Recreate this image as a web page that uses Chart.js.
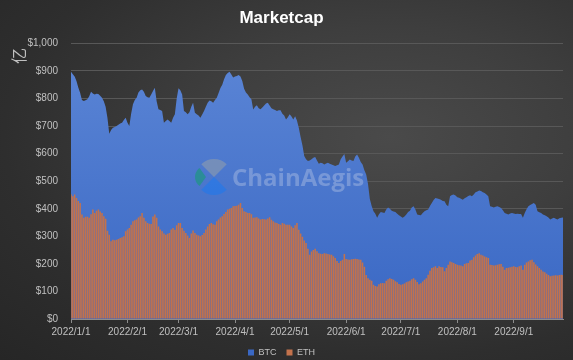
<!DOCTYPE html>
<html>
<head>
<meta charset="utf-8">
<script src="https://cdn.jsdelivr.net/npm/chart.js@4.4.1/dist/chart.umd.min.js"></script>
<style>
  html, body { margin: 0; padding: 0; }
  body {
    width: 573px; height: 360px; overflow: hidden;
    background: radial-gradient(ellipse at 68% 38%, #4a4a4a 0%, #3e3e3e 35%, #2e2e2e 70%, #262626 100%);
  }
  #wrap { position: relative; width: 573px; height: 360px; }
</style>
</head>
<body>
<div id="wrap"><canvas id="chart" width="573" height="360"></canvas></div>
<script>
// daily market cap, 2022/1/1 .. 2022/9/28
const btcCap = [
  897, 888, 880, 864, 840, 821, 795, 791, 794, 797,
  808, 825, 818, 815, 817, 816, 810, 803, 790, 770,
  730, 672, 686, 694, 697, 700, 705, 709, 712, 722,
  730, 712, 700, 745, 779, 795, 803, 822, 830, 833,
  825, 809, 805, 803, 815, 827, 839, 790, 761, 758,
  755, 712, 718, 724, 718, 712, 730, 743, 800, 837,
  830, 815, 755, 750, 743, 750, 770, 785, 748, 743,
  738, 730, 742, 755, 770, 785, 793, 790, 785, 795,
  803, 820, 838, 850, 870, 885, 893, 897, 887, 876,
  880, 882, 885, 880, 864, 835, 822, 815, 805, 797,
  760, 770, 776, 765, 761, 767, 775, 782, 785, 775,
  765, 761, 758, 755, 757, 757, 745, 738, 724, 732,
  743, 735, 724, 736, 720, 694, 660, 630, 591, 580,
  573, 575, 580, 585, 588, 575, 563, 567, 565, 561,
  564, 567, 563, 561, 558, 555, 558, 561, 580, 590,
  599, 567, 572, 579, 575, 573, 590, 597, 585, 570,
  561, 540, 524, 490, 435, 410, 391, 382, 367, 380,
  388, 386, 385, 397, 405, 400, 393, 390, 388, 382,
  376, 372, 367, 372, 379, 388, 393, 405, 409, 397,
  379, 377, 376, 385, 391, 395, 397, 410, 421, 432,
  439, 437, 435, 433, 428, 427, 415, 409, 445, 450,
  452, 448, 442, 440, 436, 433, 438, 442, 446, 449,
  445, 452, 460, 463, 466, 464, 460, 457, 452, 445,
  409, 407, 405, 407, 409, 406, 403, 395, 385, 382,
  379, 383, 385, 383, 381, 382, 381, 381, 367, 385,
  398, 409, 414, 417, 421, 415, 391, 387, 385, 379,
  376, 373, 368, 361, 365, 367, 364, 361, 366, 367,
  368
];
const ethCap = [
  452, 445, 452, 439, 428, 421, 379, 367, 371, 371,
  367, 380, 397, 385, 393, 397, 390, 385, 373, 364,
  320, 306, 282, 288, 286, 288, 290, 294, 297, 300,
  318, 325, 330, 342, 355, 358, 361, 368, 373, 385,
  367, 355, 348, 346, 345, 372, 379, 367, 336, 325,
  318, 310, 306, 309, 312, 325, 330, 324, 340, 348,
  348, 330, 320, 312, 303, 294, 310, 321, 312, 306,
  303, 300, 305, 312, 325, 336, 345, 348, 344, 342,
  355, 361, 368, 373, 381, 388, 397, 400, 403, 409,
  410, 411, 415, 421, 403, 391, 388, 385, 385, 380,
  367, 368, 369, 365, 361, 363, 362, 361, 365, 369,
  360, 355, 350, 348, 345, 342, 348, 346, 342, 342,
  342, 336, 330, 340, 348, 324, 310, 298, 285, 276,
  255, 233, 245, 250, 255, 246, 239, 237, 236, 239,
  238, 236, 234, 233, 228, 221, 210, 203, 210, 215,
  236, 218, 216, 215, 217, 218, 219, 218, 216, 215,
  205, 190, 160, 148, 142, 139, 124, 120, 118, 126,
  130, 131, 130, 139, 144, 148, 145, 142, 137, 133,
  127, 124, 126, 129, 133, 136, 139, 144, 148, 142,
  134, 126, 130, 136, 142, 148, 161, 175, 185, 188,
  191, 185, 191, 189, 188, 173, 185, 197, 209, 206,
  203, 200, 197, 195, 194, 191, 200, 202, 203, 212,
  215, 224, 230, 236, 239, 233, 230, 227, 224, 221,
  197, 196, 194, 195, 197, 199, 200, 190, 179, 185,
  186, 188, 190, 191, 189, 188, 191, 194, 179, 197,
  205, 209, 213, 215, 206, 198, 191, 185, 179, 172,
  170, 164, 160, 155, 157, 158, 159, 158, 160, 161,
  160
];
const yTicks = [0, 100, 200, 300, 400, 500, 600, 700, 800, 900, 1000];

const dates = [];
for (let i = 0; i < btcCap.length; i++) {
  const d = new Date(2022, 0, 1 + i);
  dates.push(d.getFullYear() + '/' + (d.getMonth() + 1) + '/' + d.getDate());
}

const textGrey = '#c0c0c0';

// 亿 title on the y axis + watermark
const extras = {
  id: 'extras',
  afterDatasetsDraw(chart) {
    const ctx = chart.ctx;
    ctx.save();
    // logo
    const cx = 214, cy = 177;
    ctx.fillStyle = 'rgba(150,160,170,0.55)';
    ctx.beginPath();
    ctx.moveTo(cx, cy);
    ctx.arc(cx, cy, 18, Math.PI * 1.25, Math.PI * 1.75);
    ctx.closePath();
    ctx.fill();
    ctx.fillStyle = 'rgba(40,120,230,0.75)';
    ctx.beginPath();
    ctx.moveTo(cx, cy);
    ctx.arc(cx, cy, 18, Math.PI * 0.25, Math.PI * 0.75);
    ctx.closePath();
    ctx.fill();
    ctx.fillStyle = 'rgba(30,150,130,0.7)';
    ctx.beginPath();
    ctx.moveTo(cx - 8, cy);
    ctx.arc(cx - 8, cy, 11, Math.PI * 0.7, Math.PI * 1.3);
    ctx.closePath();
    ctx.fill();
    // text
    ctx.fillStyle = 'rgba(215,222,235,0.32)';
    ctx.font = 'bold 24px "Open Sans", sans-serif';
    ctx.textBaseline = 'middle';
    ctx.textAlign = 'left';
    ctx.fillText('ChainAegis', 232, 179);
    ctx.restore();
  },
  afterDraw(chart) {
    const ctx = chart.ctx;
    ctx.save();
    ctx.translate(19, 56);
    ctx.rotate(-Math.PI / 2);
    ctx.fillStyle = textGrey;
    ctx.font = '16px "Noto Sans CJK SC", sans-serif';
    ctx.textAlign = 'center';
    ctx.textBaseline = 'middle';
    ctx.fillText('亿', 0, 0);
    ctx.restore();
  }
};

const ctx = document.getElementById('chart').getContext('2d');
new Chart(ctx, {
  type: 'bar',
  data: {
    labels: dates,
    datasets: [
      {
        type: 'line',
        label: 'BTC',
        data: btcCap,
        order: 1,
        fill: 'origin',
        pointRadius: 0,
        borderWidth: 0,
        tension: 0,
        borderColor: '#4a78d0',
        backgroundColor: function (context) {
          const area = context.chart.chartArea;
          if (!area) return '#4472c4';
          const g = context.chart.ctx.createLinearGradient(0, area.top, 0, area.bottom);
          g.addColorStop(0, '#5c86d6');
          g.addColorStop(1, '#3a68c4');
          return g;
        }
      },
      {
        label: 'ETH',
        data: ethCap,
        order: 0,
        backgroundColor: '#c3724c',
        borderWidth: 0,
        barPercentage: 0.85,
        categoryPercentage: 1
      }
    ]
  },
  options: {
    responsive: false,
    animation: false,
    layout: { padding: { left: 0, right: 10, top: 0, bottom: -7 } },
    plugins: {
      title: {
        display: true,
        text: 'Marketcap',
        color: '#ffffff',
        font: { family: 'Arial, "Liberation Sans"', size: 17, weight: 'bold' },
        padding: { top: 8, bottom: 15 }
      },
      legend: {
        position: 'bottom',
        labels: {
          color: textGrey,
          boxWidth: 6,
          boxHeight: 6,
          padding: 10,
          font: { family: 'Arial, "Liberation Sans"', size: 9 },
          sort: (a, b) => a.datasetIndex - b.datasetIndex
        }
      },
      tooltip: { enabled: false }
    },
    scales: {
      x: {
        offset: false,
        grid: {
          offset: false,
          drawOnChartArea: false,
          drawTicks: true,
          tickLength: 4,
          color: '#8c8c8c'
        },
        border: { display: true, color: '#8c8c8c' },
        ticks: {
          autoSkip: false,
          maxRotation: 0,
          minRotation: 0,
          padding: 3,
          color: textGrey,
          font: { family: 'Arial, "Liberation Sans"', size: 10 },
          callback: function (value) {
            const label = this.getLabelForValue(value);
            return label.split('/')[2] === '1' ? label : null;
          }
        },
        afterFit: (scale) => { scale.height = 19; }
      },
      y: {
        min: 0,
        max: 1000,
        afterBuildTicks: (scale) => { scale.ticks = yTicks.map(v => ({ value: v })); },
        grid: { color: '#585858', drawTicks: false },
        border: { display: false },
        ticks: {
          padding: 13,
          color: textGrey,
          font: { family: 'Arial, "Liberation Sans"', size: 10 },
          callback: (v) => '$' + v.toLocaleString('en-US')
        },
        afterFit: (scale) => { scale.width = 71; }
      }
    }
  },
  plugins: [extras]
});
</script>
</body>
</html>
